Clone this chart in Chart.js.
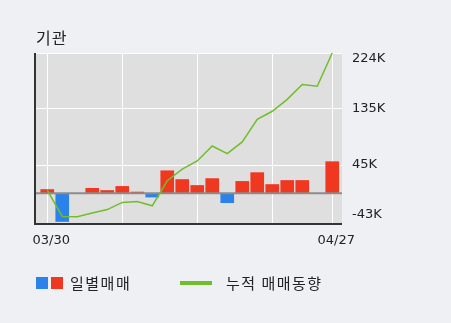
<!DOCTYPE html>
<html>
<head>
<meta charset="utf-8">
<script src="https://cdn.jsdelivr.net/npm/chart.js@4.4.1/dist/chart.umd.min.js"></script>
<style>
    html, body { margin: 0; padding: 0; background: #eff0f4; }
    #wrap { position: relative; width: 451px; height: 323px; }
</style>
</head>
<body>
<div id="wrap"><canvas id="chart" width="451" height="323"></canvas></div>
<script>
    'use strict';

    // trading days shown on the x axis
    var dates = ['03/30', '03/31', '04/01', '04/02', '04/03', '04/06', '04/07', '04/08', '04/09', '04/10',
                 '04/13', '04/14', '04/16', '04/17', '04/20', '04/21', '04/22', '04/23', '04/24', '04/27'];
    // 일별매매 (daily net, shares)
    var dailyNet = [6000, -45000, 0, 8000, 4500, 11000, 2000, -6000, 36000, 22000,
                    12500, 23500, -15000, 19000, 33000, 14000, 20500, 20500, 0, 50500];
    // 누적 매매동향 (cumulative)
    var cumulative = [5000, -37000, -37500, -31500, -26000, -14500, -13000, -20000, 20000, 38500,
                      51700, 75500, 63400, 82000, 118000, 131000, 150000, 173600, 171000, 224000];
    var yTickValues = [-43000, 45000, 135000, 224000];
    var yTickLabels = ['-43K', '45K', '135K', '224K'];
    var xGridIndex = [0, 5, 10, 15, 19];
    var xLabelIndex = [0, 19];

    var RED = '#f0371f';
    var BLUE = '#2a82ea';
    var GREEN = '#70be2a';
    var PLOT_BG = '#dfdfdf';
    var PAGE_BG = '#eff0f4';
    var NUM_FONT = '13px "DejaVu Sans"';
    var KR_FONT = '"Noto Sans CJK KR"';

    var decor = {
        id: 'decor',
        beforeDraw: function (chart) {
            var ctx = chart.ctx, a = chart.chartArea;
            ctx.save();
            ctx.fillStyle = PAGE_BG;
            ctx.fillRect(0, 0, chart.width, chart.height);
            ctx.fillStyle = PLOT_BG;
            ctx.fillRect(a.left, a.top, a.right - a.left, a.bottom - a.top);
            ctx.restore();
        },
        afterDatasetDraw: function (chart, args) {
            if (args.index !== 0) return;
            var ctx = chart.ctx, a = chart.chartArea;
            var y0 = chart.scales.y.getPixelForValue(0);
            ctx.save();
            ctx.strokeStyle = '#8c8c8c';
            ctx.lineWidth = 2;
            ctx.beginPath();
            ctx.moveTo(a.left, y0);
            ctx.lineTo(a.right, y0);
            ctx.stroke();
            ctx.restore();
        },
        afterDraw: function (chart) {
            var ctx = chart.ctx, a = chart.chartArea;
            var xs = chart.scales.x, ys = chart.scales.y;
            ctx.save();
            // axis lines
            ctx.strokeStyle = '#333';
            ctx.lineWidth = 2;
            ctx.beginPath();
            ctx.moveTo(a.left - 1, a.top);
            ctx.lineTo(a.left - 1, a.bottom);
            ctx.lineTo(a.right, a.bottom);
            ctx.stroke();

            // right tick labels, kept inside the plot height
            ctx.fillStyle = '#222';
            ctx.font = NUM_FONT;
            ctx.textAlign = 'left';
            ctx.textBaseline = 'middle';
            yTickValues.forEach(function (v, i) {
                var y = ys.getPixelForValue(v);
                y = Math.max(a.top + 6, Math.min(a.bottom - 9, y));
                ctx.fillText(yTickLabels[i], a.right + 10, y);
            });

            // date labels
            ctx.textAlign = 'center';
            xLabelIndex.forEach(function (i) {
                ctx.fillText(dates[i], xs.getPixelForValue(i) + 4, a.bottom + 17);
            });

            // title
            ctx.textAlign = 'left';
            ctx.font = '16px ' + KR_FONT;
            ctx.letterSpacing = '1px';
            ctx.fillText('기관', 36, 38);

            // legend
            ctx.fillStyle = BLUE;
            ctx.fillRect(36, 277, 12, 12);
            ctx.fillStyle = RED;
            ctx.fillRect(51, 277, 12, 12);
            ctx.fillStyle = '#222';
            ctx.font = '15px ' + KR_FONT;
            ctx.letterSpacing = '1.5px';
            ctx.fillText('일별매매', 70, 283);
            ctx.fillStyle = GREEN;
            ctx.fillRect(180, 281, 32, 4);
            ctx.fillStyle = '#222';
            ctx.fillText('누적 매매동향', 226, 283);
            ctx.restore();
        }
    };

    var barData = dailyNet.map(function (v, i) { return {x: i, y: v}; });
    var lineData = cumulative.map(function (v, i) { return {x: i, y: v}; });

    new Chart(document.getElementById('chart').getContext('2d'), {
        type: 'bar',
        data: {
            datasets: [{
                type: 'bar',
                label: '일별매매',
                data: barData,
                backgroundColor: function (c) {
                    return c.raw && c.raw.y < 0 ? BLUE : RED;
                },
                barThickness: 13,
                grouped: false,
                order: 2
            }, {
                type: 'line',
                label: '누적 매매동향',
                data: lineData,
                borderColor: GREEN,
                borderWidth: 1.5,
                pointRadius: 0,
                tension: 0,
                fill: false,
                order: 1
            }]
        },
        options: {
            responsive: false,
            animation: false,
            events: [],
            layout: {padding: {left: 36, top: 53, right: 109, bottom: 99}},
            plugins: {legend: {display: false}, tooltip: {enabled: false}},
            scales: {
                x: {
                    type: 'linear',
                    min: -0.75,
                    max: 19.65,
                    offset: false,
                    afterBuildTicks: function (axis) {
                        axis.ticks = xGridIndex.map(function (v) { return {value: v}; });
                    },
                    ticks: {display: false},
                    border: {display: false},
                    grid: {color: '#ffffff', lineWidth: 1, drawTicks: false, offset: false}
                },
                y: {
                    position: 'right',
                    min: -49000,
                    max: 224000,
                    afterBuildTicks: function (axis) {
                        axis.ticks = yTickValues.map(function (v) { return {value: v}; });
                    },
                    ticks: {display: false},
                    border: {display: false},
                    grid: {
                        drawTicks: false,
                        lineWidth: 1,
                        color: function (c) {
                            return c.tick && c.tick.value === -43000 ? 'rgba(0,0,0,0)' : '#ffffff';
                        }
                    }
                }
            }
        },
        plugins: [decor]
    });
</script>
</body>
</html>
